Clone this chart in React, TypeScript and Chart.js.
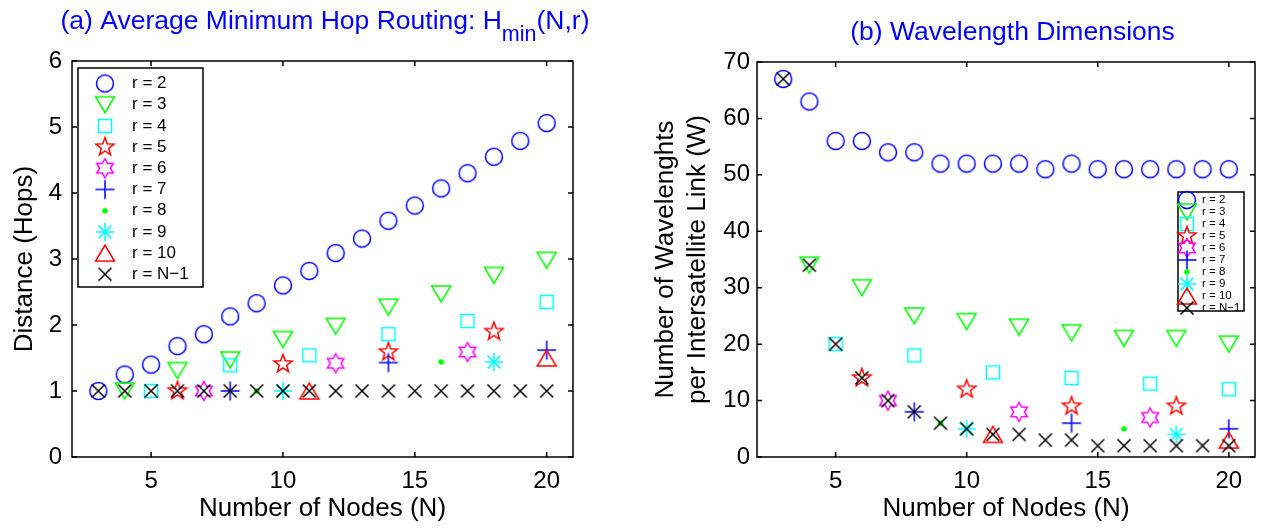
import React, { useEffect, useRef } from "react";
import { Chart, registerables } from "chart.js";

Chart.register(...registerables);

const FONT = "'Liberation Sans', Arial, Helvetica, sans-serif";

// ---- series definitions ----
const seriesLabels = ["r = 2", "r = 3", "r = 4", "r = 5", "r = 6", "r = 7", "r = 8", "r = 9", "r = 10", "r = N\u22121"];
const seriesColors = ["#0000ff", "#00ff00", "#00ffff", "#ff0000", "#ff00ff", "#0000ff", "#00ff00", "#00ffff", "#ff0000", "#000000"];
const seriesMarkers = ["circle", "triangleDown", "square", "pentagram", "hexagram", "plus", "dot", "asterisk", "triangleUp", "cross"];

// ---- N values (x) per series ----
const nodesR2 = [3, 4, 5, 6, 7, 8, 9, 10, 11, 12, 13, 14, 15, 16, 17, 18, 19, 20];
const nodesR3 = [4, 6, 8, 10, 12, 14, 16, 18, 20];
const nodesR4 = [5, 8, 11, 14, 17, 20];
const nodesR5 = [6, 10, 14, 18];
const nodesR6 = [7, 12, 17];
const nodesR7 = [8, 14, 20];
const nodesR8 = [9, 16];
const nodesR9 = [10, 18];
const nodesR10 = [11, 20];
const nodesRN1 = [3, 4, 5, 6, 7, 8, 9, 10, 11, 12, 13, 14, 15, 16, 17, 18, 19, 20];

// ---- (a) average minimum hop distance ----
const hopsR2 = [1.0, 1.25, 1.4, 1.68, 1.86, 2.13, 2.33, 2.6, 2.82, 3.09, 3.31, 3.58, 3.81, 4.07, 4.3, 4.55, 4.79, 5.06];
const hopsR3 = [1.0, 1.31, 1.47, 1.78, 1.98, 2.27, 2.47, 2.75, 2.98];
const hopsR4 = [1.0, 1.39, 1.54, 1.86, 2.06, 2.35];
const hopsR5 = [1.0, 1.41, 1.59, 1.9];
const hopsR6 = [1.0, 1.42, 1.59];
const hopsR7 = [1.0, 1.43, 1.62];
const hopsR8 = [1.0, 1.44];
const hopsR9 = [1.0, 1.44];
const hopsR10 = [1.0, 1.5];
const hopsRN1 = [1, 1, 1, 1, 1, 1, 1, 1, 1, 1, 1, 1, 1, 1, 1, 1, 1, 1];

// ---- (b) wavelengths per intersatellite link ----
const wavesR2 = [67, 63, 56, 56, 54, 54, 52, 52, 52, 52, 51, 52, 51, 51, 51, 51, 51, 51];
const wavesR3 = [34, 30, 25, 24, 23, 22, 21, 21, 20];
const wavesR4 = [20, 18, 15, 14, 13, 12];
const wavesR5 = [14, 12, 9, 9];
const wavesR6 = [10, 8, 7];
const wavesR7 = [8, 6, 5];
const wavesR8 = [6, 5];
const wavesR9 = [5, 4];
const wavesR10 = [4, 3];
const wavesRN1 = [67, 34, 20, 14, 10, 8, 6, 5, 4, 4, 3, 3, 2, 2, 2, 2, 2, 2];

// ---- ticks ----
const xTicks = [5, 10, 15, 20];
const hopTicks = [0, 1, 2, 3, 4, 5, 6];
const waveTicks = [0, 10, 20, 30, 40, 50, 60, 70];

const seriesNodes = [nodesR2, nodesR3, nodesR4, nodesR5, nodesR6, nodesR7, nodesR8, nodesR9, nodesR10, nodesRN1];
const hopSeries = [hopsR2, hopsR3, hopsR4, hopsR5, hopsR6, hopsR7, hopsR8, hopsR9, hopsR10, hopsRN1];
const waveSeries = [wavesR2, wavesR3, wavesR4, wavesR5, wavesR6, wavesR7, wavesR8, wavesR9, wavesR10, wavesRN1];

// ---- marker images (MATLAB-like symbols) ----
const MS = 26;
const markerCache: Record<string, HTMLCanvasElement> = {};
function marker(kind: string, color: string): HTMLCanvasElement {
  const key = kind + color;
  if (markerCache[key]) return markerCache[key];
  const c = document.createElement("canvas");
  c.width = MS;
  c.height = MS;
  const g = c.getContext("2d") as CanvasRenderingContext2D;
  const m = MS / 2;
  g.strokeStyle = color;
  g.fillStyle = color;
  g.lineWidth = 1.5;
  g.beginPath();
  const star = (n: number, R: number, r: number) => {
    for (let i = 0; i < 2 * n; i++) {
      const a = -Math.PI / 2 + (i * Math.PI) / n;
      const rad = i % 2 === 0 ? R : r;
      const px = m + rad * Math.cos(a);
      const py = m + rad * Math.sin(a);
      if (i === 0) g.moveTo(px, py);
      else g.lineTo(px, py);
    }
    g.closePath();
  };
  switch (kind) {
    case "circle":
      g.arc(m, m, 8.5, 0, Math.PI * 2);
      break;
    case "triangleDown":
      g.moveTo(m - 9.5, m - 8);
      g.lineTo(m + 9.5, m - 8);
      g.lineTo(m, m + 8);
      g.closePath();
      break;
    case "triangleUp":
      g.moveTo(m - 9.5, m + 8);
      g.lineTo(m + 9.5, m + 8);
      g.lineTo(m, m - 8);
      g.closePath();
      break;
    case "square":
      g.rect(m - 6.5, m - 6.5, 13, 13);
      break;
    case "pentagram":
      star(5, 9.5, 3.9);
      break;
    case "hexagram":
      star(6, 9.5, 5.4);
      break;
    case "plus":
      g.moveTo(m - 9.5, m);
      g.lineTo(m + 9.5, m);
      g.moveTo(m, m - 9.5);
      g.lineTo(m, m + 9.5);
      break;
    case "cross":
      g.moveTo(m - 6.5, m - 6.5);
      g.lineTo(m + 6.5, m + 6.5);
      g.moveTo(m + 6.5, m - 6.5);
      g.lineTo(m - 6.5, m + 6.5);
      break;
    case "asterisk":
      g.moveTo(m - 9, m);
      g.lineTo(m + 9, m);
      g.moveTo(m, m - 9);
      g.lineTo(m, m + 9);
      g.moveTo(m - 6.4, m - 6.4);
      g.lineTo(m + 6.4, m + 6.4);
      g.moveTo(m + 6.4, m - 6.4);
      g.lineTo(m - 6.4, m + 6.4);
      break;
    case "dot":
      g.arc(m, m, 2.8, 0, Math.PI * 2);
      g.fill();
      markerCache[key] = c;
      return c;
  }
  g.stroke();
  markerCache[key] = c;
  return c;
}

// ---- plugins ----
function framePlugin() {
  return {
    id: "matlabFrame",
    afterDraw(chart: any) {
      const { ctx, chartArea: a, scales } = chart;
      ctx.save();
      ctx.strokeStyle = "#000";
      ctx.lineWidth = 1.5;
      ctx.strokeRect(a.left, a.top, a.right - a.left, a.bottom - a.top);
      const tl = 5;
      ctx.beginPath();
      scales.x.ticks.forEach((t: any) => {
        const px = scales.x.getPixelForValue(t.value);
        ctx.moveTo(px, a.bottom);
        ctx.lineTo(px, a.bottom - tl);
        ctx.moveTo(px, a.top);
        ctx.lineTo(px, a.top + tl);
      });
      scales.y.ticks.forEach((t: any) => {
        const py = scales.y.getPixelForValue(t.value);
        ctx.moveTo(a.left, py);
        ctx.lineTo(a.left + tl, py);
        ctx.moveTo(a.right, py);
        ctx.lineTo(a.right - tl, py);
      });
      ctx.stroke();
      ctx.restore();
    },
  };
}

function legendPlugin(box: { x0: number; y0: number; x1: number; y1: number; mx: number; tx: number; ry: number; step: number; size: number }) {
  return {
    id: "matlabLegend",
    afterDraw(chart: any) {
      const ctx = chart.ctx;
      ctx.save();
      ctx.fillStyle = "#fff";
      ctx.fillRect(box.x0, box.y0, box.x1 - box.x0, box.y1 - box.y0);
      ctx.strokeStyle = "#000";
      ctx.lineWidth = 1.5;
      ctx.strokeRect(box.x0, box.y0, box.x1 - box.x0, box.y1 - box.y0);
      ctx.font = `${box.size}px ${FONT}`;
      ctx.textBaseline = "middle";
      ctx.textAlign = "left";
      seriesLabels.forEach((lab, i) => {
        const y = box.ry + i * box.step;
        ctx.drawImage(marker(seriesMarkers[i], seriesColors[i]), box.mx - MS / 2, y - MS / 2);
        ctx.fillStyle = "#000";
        ctx.fillText(lab, box.tx, y);
      });
      ctx.restore();
    },
  };
}

function titlePlugin(parts: { text: string; size: number; dy: number }[], cx: number, baseline: number) {
  return {
    id: "matlabTitle",
    afterDraw(chart: any) {
      const ctx = chart.ctx;
      ctx.save();
      ctx.fillStyle = "#0000ff";
      ctx.textBaseline = "alphabetic";
      ctx.textAlign = "left";
      let total = 0;
      parts.forEach((p) => {
        ctx.font = `${p.size}px ${FONT}`;
        total += ctx.measureText(p.text).width;
      });
      let x = cx - total / 2;
      parts.forEach((p) => {
        ctx.font = `${p.size}px ${FONT}`;
        ctx.fillText(p.text, x, baseline + p.dy);
        x += ctx.measureText(p.text).width;
      });
      ctx.restore();
    },
  };
}

function makeConfig(opts: {
  values: number[][];
  yMax: number;
  yTicks: number[];
  yTitle: string | string[];
  yWidth: number;
  yTitlePad: number;
  yTitleLineHeight: number;
  yTickPad: number;
  padTop: number;
  padRight: number;
  plugins: any[];
}): any {
  const datasets = seriesLabels.map((lab, i) => ({
    label: lab,
    data: seriesNodes[i].map((n, j) => ({ x: n, y: opts.values[i][j] })),
    pointStyle: marker(seriesMarkers[i], seriesColors[i]),
    pointRadius: 9,
    showLine: false,
    borderColor: seriesColors[i],
    backgroundColor: seriesColors[i],
    order: seriesLabels.length - 1 - i,
  }));
  return {
    type: "scatter",
    data: { datasets },
    options: {
      animation: false,
      responsive: false,
      maintainAspectRatio: false,
      events: [],
      layout: { padding: { left: 0, right: opts.padRight, top: opts.padTop, bottom: 0 } },
      plugins: { legend: { display: false }, tooltip: { enabled: false }, title: { display: false } },
      scales: {
        x: {
          type: "linear",
          min: 2,
          max: 21,
          grid: { display: false, drawTicks: false },
          border: { display: false },
          ticks: { color: "#000", font: { family: FONT, size: 24 }, padding: 10 },
          afterBuildTicks: (s: any) => {
            s.ticks = xTicks.map((v) => ({ value: v }));
          },
          afterFit: (s: any) => {
            s.height = 72;
          },
          title: {
            display: true,
            text: "Number of Nodes (N)",
            color: "#000",
            font: { family: FONT, size: 26, lineHeight: 1.2 },
            padding: { top: 0, bottom: 5 },
          },
        },
        y: {
          type: "linear",
          min: 0,
          max: opts.yMax,
          grid: { display: false, drawTicks: false },
          border: { display: false },
          ticks: { color: "#000", font: { family: FONT, size: 24 }, padding: opts.yTickPad },
          afterBuildTicks: (s: any) => {
            s.ticks = opts.yTicks.map((v) => ({ value: v }));
          },
          afterFit: (s: any) => {
            s.width = opts.yWidth;
          },
          title: {
            display: true,
            text: opts.yTitle,
            color: "#000",
            font: { family: FONT, size: 26, lineHeight: opts.yTitleLineHeight },
            padding: { top: opts.yTitlePad, bottom: 0 },
          },
        },
      },
    },
    plugins: opts.plugins,
  };
}

export default function App() {
  const leftRef = useRef<HTMLCanvasElement>(null);
  const rightRef = useRef<HTMLCanvasElement>(null);

  useEffect(() => {
    const left = new Chart(
      leftRef.current as HTMLCanvasElement,
      makeConfig({
        values: hopSeries,
        yMax: 6,
        yTicks: hopTicks,
        yTitle: "Distance (Hops)",
        yWidth: 72,
        yTitlePad: 9,
        yTitleLineHeight: 1.2,
        yTickPad: 10,
        padTop: 61,
        padRight: 59,
        plugins: [
          framePlugin(),
          legendPlugin({ x0: 78, y0: 68, x1: 203, y1: 287, mx: 105, tx: 132, ry: 83.5, step: 21.2, size: 17 }),
          titlePlugin(
            [
              { text: "(a) Average Minimum Hop Routing: H", size: 26.5, dy: 0 },
              { text: "min", size: 21.5, dy: 12 },
              { text: "(N,r)", size: 26.5, dy: 0 },
            ],
            325,
            29
          ),
        ],
      })
    );
    const right = new Chart(
      rightRef.current as HTMLCanvasElement,
      makeConfig({
        values: waveSeries,
        yMax: 70,
        yTicks: waveTicks,
        yTitle: ["Number of Wavelenghts", "per Intersatellite Link (W)"],
        yWidth: 125,
        yTitlePad: 18,
        yTitleLineHeight: 32 / 26,
        yTickPad: 7,
        padTop: 62,
        padRight: 5,
        plugins: [
          framePlugin(),
          legendPlugin({ x0: 546, y0: 192, x1: 612, y1: 311, mx: 555, tx: 570, ry: 200, step: 12, size: 11.5 }),
          titlePlugin([{ text: "(b) Wavelength Dimensions", size: 26.5, dy: 0 }], 380.5, 40),
        ],
      })
    );
    return () => {
      left.destroy();
      right.destroy();
    };
  }, []);

  return (
    <div style={{ position: "fixed", left: 0, top: 0, width: 1265, height: 529, background: "#fff" }}>
      <canvas ref={leftRef} width={632} height={529} style={{ position: "absolute", left: 0, top: 0, width: 632, height: 529 }} />
      <canvas ref={rightRef} width={633} height={529} style={{ position: "absolute", left: 632, top: 0, width: 633, height: 529 }} />
    </div>
  );
}
